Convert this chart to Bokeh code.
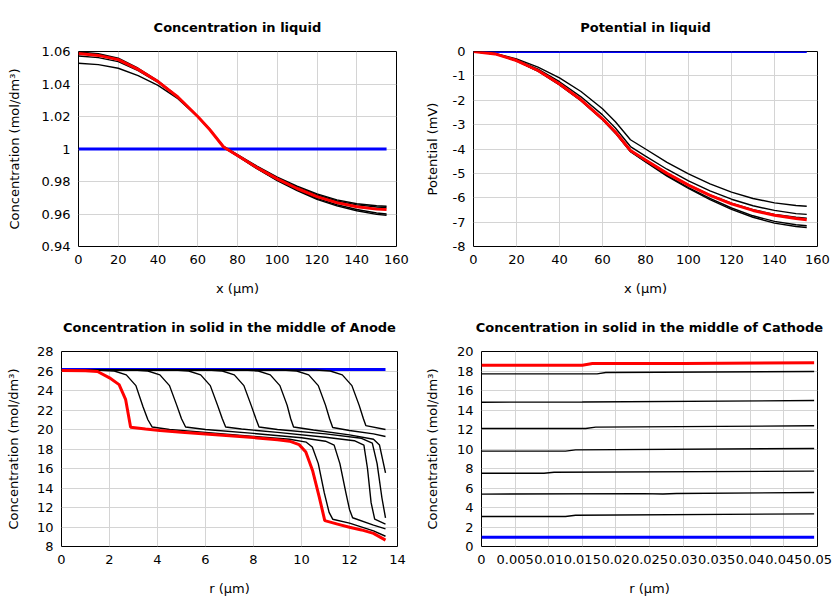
from bokeh.plotting import figure
from bokeh.layouts import column, row
from bokeh.models import Range1d, FixedTicker
from bokeh.embed import file_html
from bokeh.resources import INLINE

FONT = "DejaVu Sans"

# ---------------- Panel 1: Concentration in liquid ----------------
liq_x = [0, 10, 20, 30, 40, 50, 60, 66, 73, 80, 90, 100, 110, 120, 130, 140, 150, 155]
liq_conc_red = [1.0587, 1.0576, 1.0550, 1.0490, 1.0415, 1.0320, 1.0200, 1.0120, 1.0012, 0.9960,
                0.9884, 0.9816, 0.9757, 0.9707, 0.9670, 0.9645, 0.9630, 0.9627]
liq_conc_black = [
    [1.0597, 1.0586, 1.0559, 1.0497, 1.0420, 1.0322, 1.0200, 1.0120, 1.0010, 0.9956,
     0.9877, 0.9806, 0.9744, 0.9690, 0.9650, 0.9620, 0.9598, 0.9592],
    [1.0591, 1.0580, 1.0553, 1.0492, 1.0416, 1.0320, 1.0199, 1.0119, 1.0010, 0.9957,
     0.9879, 0.9809, 0.9748, 0.9696, 0.9657, 0.9628, 0.9606, 0.9600],
    [1.0572, 1.0562, 1.0538, 1.0482, 1.0410, 1.0318, 1.0200, 1.0121, 1.0014, 0.9963,
     0.9889, 0.9822, 0.9765, 0.9717, 0.9680, 0.9656, 0.9643, 0.9640],
    [1.0528, 1.0519, 1.0497, 1.0452, 1.0392, 1.0310, 1.0197, 1.0121, 1.0016, 0.9966,
     0.9893, 0.9827, 0.9771, 0.9724, 0.9687, 0.9663, 0.9651, 0.9648],
]
liq_conc_blue_x = [0, 155]
liq_conc_blue = [1.0, 1.0]
liq_conc_xticks = [0, 20, 40, 60, 80, 100, 120, 140, 160]
liq_conc_xlabels = ["0", "20", "40", "60", "80", "100", "120", "140", "160"]
liq_conc_yticks = [0.94, 0.96, 0.98, 1.0, 1.02, 1.04, 1.06]
liq_conc_ylabels = ["0.94", "0.96", "0.98", "1", "1.02", "1.04", "1.06"]

# ---------------- Panel 2: Potential in liquid ----------------
pot_red = [0, -0.10, -0.37, -0.78, -1.33, -1.98, -2.76, -3.30, -4.06, -4.45,
           -5.00, -5.48, -5.90, -6.25, -6.52, -6.72, -6.85, -6.90]
pot_black = [
    [0, -0.08, -0.30, -0.64, -1.08, -1.64, -2.35, -2.88, -3.62, -4.00,
     -4.55, -5.02, -5.43, -5.77, -6.03, -6.21, -6.32, -6.35],
    [0, -0.09, -0.34, -0.72, -1.24, -1.86, -2.60, -3.14, -3.90, -4.29,
     -4.83, -5.31, -5.72, -6.06, -6.33, -6.52, -6.65, -6.68],
    [0, -0.10, -0.37, -0.79, -1.34, -1.99, -2.77, -3.31, -4.06, -4.45,
     -4.99, -5.47, -5.88, -6.22, -6.49, -6.68, -6.80, -6.84],
    [0, -0.10, -0.38, -0.80, -1.36, -2.01, -2.79, -3.34, -4.10, -4.51,
     -5.08, -5.58, -6.03, -6.42, -6.74, -6.97, -7.11, -7.15],
    [0, -0.10, -0.38, -0.81, -1.37, -2.02, -2.80, -3.35, -4.11, -4.53,
     -5.11, -5.62, -6.08, -6.48, -6.80, -7.04, -7.18, -7.22],
]
pot_blue_x = [0, 155]
pot_blue = [0, 0]
pot_yticks = [0, -1, -2, -3, -4, -5, -6, -7, -8]
pot_ylabels = ["0", "-1", "-2", "-3", "-4", "-5", "-6", "-7", "-8"]

# ---------------- Panel 3: Anode solid concentration ----------------
anode_r_red = [0, 1.0, 1.5, 2.0, 2.4, 2.67, 2.88, 3.5, 4.1, 5, 6, 7, 8, 9, 9.5, 9.9,
               10.18, 10.46, 10.74, 10.97, 11.5, 12, 12.5, 13, 13.5]
anode_c_red = [26.05, 26.02, 25.95, 25.3, 24.6, 23.1, 20.24, 20.05, 19.9, 19.72, 19.55,
               19.37, 19.17, 18.95, 18.8, 18.45, 17.7, 15.8, 13.07, 10.65, 10.3, 9.97,
               9.7, 9.34, 8.66]
anode_r_black = [
    [0, 1.5, 2.2, 2.7, 3.1, 3.4, 3.6, 3.78, 4.5, 6, 8, 9.5, 10.2, 10.45, 10.7, 10.95,
     11.15, 11.3, 12, 13, 13.5],
    [0, 3.0, 3.6, 4.1, 4.5, 4.8, 5.0, 5.17, 6, 8, 10, 11.0, 11.36, 11.6, 11.85, 12.0,
     12.13, 13, 13.5],
    [0, 4.7, 5.3, 5.8, 6.2, 6.5, 6.7, 6.84, 7.5, 9, 11, 12.2, 12.6, 12.75, 12.9, 13.05,
     13.5],
    [0, 6.1, 6.7, 7.2, 7.6, 7.9, 8.1, 8.23, 9, 11, 12.5, 12.95, 13.15, 13.35, 13.5],
    [0, 7.6, 8.2, 8.7, 9.1, 9.4, 9.55, 9.67, 10.5, 12, 13.0, 13.25, 13.5],
    [0, 9.2, 9.8, 10.3, 10.7, 11.0, 11.17, 11.3, 12, 13, 13.5],
    [0, 10.6, 11.2, 11.7, 12.1, 12.4, 12.58, 12.68, 13.5],
]
anode_c_black = [
    [26.1, 26.1, 26.0, 25.6, 24.5, 22.3, 21.0, 20.25, 20.0, 19.7, 19.3, 19.0, 18.7,
     18.2, 16.5, 13.5, 11.5, 10.8, 10.4, 9.6, 9.05],
    [26.1, 26.1, 26.0, 25.6, 24.5, 22.5, 21.1, 20.25, 20.0, 19.6, 19.15, 18.8, 18.4,
     16.5, 13.5, 11.8, 10.95, 10.2, 9.8],
    [26.1, 26.1, 26.0, 25.6, 24.5, 22.5, 21.1, 20.25, 20.05, 19.7, 19.2, 18.85, 18.4,
     16.0, 12.5, 10.8, 10.3],
    [26.1, 26.1, 26.0, 25.6, 24.5, 22.5, 21.1, 20.25, 20.0, 19.55, 19.1, 18.6, 16.5,
     13.0, 10.93],
    [26.1, 26.1, 26.0, 25.6, 24.5, 22.5, 21.1, 20.25, 19.95, 19.45, 19.0, 18.4, 15.55],
    [26.1, 26.1, 26.0, 25.6, 24.5, 22.5, 21.1, 20.2, 19.9, 19.55, 19.28],
    [26.1, 26.1, 26.0, 25.6, 24.5, 22.5, 21.1, 20.4, 20.0],
]
anode_r_blue = [0, 13.5]
anode_c_blue = [26.15, 26.15]
anode_xticks = [0, 2, 4, 6, 8, 10, 12, 14]
anode_xlabels = ["0", "2", "4", "6", "8", "10", "12", "14"]
anode_yticks = [8, 10, 12, 14, 16, 18, 20, 22, 24, 26, 28]
anode_ylabels = ["8", "10", "12", "14", "16", "18", "20", "22", "24", "26", "28"]

# ---------------- Panel 4: Cathode solid concentration ----------------
cath_r_red = [0, 0.015, 0.0165, 0.03, 0.0495]
cath_c_red = [18.6, 18.6, 18.76, 18.78, 18.84]
cath_r_black = [
    [0, 0.0172, 0.0185, 0.0495],
    [0, 0.015, 0.0495],
    [0, 0.0155, 0.017, 0.0495],
    [0, 0.0125, 0.014, 0.0495],
    [0, 0.0093, 0.0108, 0.0495],
    [0, 0.024, 0.027, 0.029, 0.0495],
    [0, 0.0125, 0.014, 0.0495],
]
cath_c_black = [
    [17.71, 17.71, 17.85, 17.95],
    [14.8, 14.82, 14.97],
    [12.1, 12.1, 12.24, 12.38],
    [9.78, 9.78, 9.91, 10.05],
    [7.52, 7.52, 7.62, 7.73],
    [5.37, 5.42, 5.38, 5.44, 5.54],
    [3.08, 3.08, 3.21, 3.35],
]
cath_r_blue = [0, 0.0495]
cath_c_blue = [0.95, 0.95]
cath_xticks = [0, 0.005, 0.01, 0.015, 0.02, 0.025, 0.03, 0.035, 0.04, 0.045, 0.05]
cath_xlabels = ["0", "0.005", "0.01", "0.015", "0.02", "0.025", "0.03", "0.035", "0.04",
                "0.045", "0.05"]
cath_yticks = [0, 2, 4, 6, 8, 10, 12, 14, 16, 18, 20]
cath_ylabels = ["0", "2", "4", "6", "8", "10", "12", "14", "16", "18", "20"]


def make_fig(title, width, height, borders, xr, yr, xticks, xlabels, yticks, ylabels,
             xlabel, ylabel, yals, xals):
    left, right, top, bottom = borders
    p = figure(width=width, height=height, output_backend="svg", toolbar_location=None,
               x_range=Range1d(*xr), y_range=Range1d(*yr),
               min_border_left=left, min_border_right=right,
               min_border_top=top, min_border_bottom=bottom)
    p.title.text = title
    p.title.align = "center"
    p.title.text_font = FONT
    p.title.text_font_size = "13px"
    p.title.text_font_style = "bold"
    p.title.text_color = "black"
    p.title.standoff = 33
    p.background_fill_color = "white"
    p.border_fill_color = "white"
    p.outline_line_color = "black"
    p.outline_line_width = 1
    p.outline_line_alpha = 1

    p.xaxis.ticker = FixedTicker(ticks=xticks, minor_ticks=[])
    p.yaxis.ticker = FixedTicker(ticks=yticks, minor_ticks=[])
    p.xaxis.major_label_overrides = {t: l for t, l in zip(xticks, xlabels)}
    p.yaxis.major_label_overrides = {t: l for t, l in zip(yticks, ylabels)}
    for ax in (p.xaxis, p.yaxis):
        ax.axis_line_color = None
        ax.major_tick_line_color = None
        ax.minor_tick_line_color = None
        ax.major_tick_out = 0
        ax.major_tick_in = 0
        ax.major_label_standoff = 8
        ax.major_label_text_font = FONT
        ax.major_label_text_font_size = "13px"
        ax.major_label_text_color = "black"
        ax.axis_label_text_font = FONT
        ax.axis_label_text_font_size = "13px"
        ax.axis_label_text_font_style = "normal"
        ax.axis_label_text_color = "black"
    p.xaxis.axis_label = xlabel
    p.yaxis.axis_label = ylabel
    p.yaxis.axis_label_standoff = yals
    p.xaxis.axis_label_standoff = xals
    p.grid.grid_line_color = "#d4d4d4"
    p.grid.grid_line_width = 1
    return p


# Panel 1
p1 = make_fig("Concentration in liquid", 418, 301, (78, 22, 51, 55), (0, 160), (0.94, 1.06),
              liq_conc_xticks, liq_conc_xlabels, liq_conc_yticks, liq_conc_ylabels,
              "x (µm)", "Concentration (mol/dm³)", 17, 14)
p1.line(liq_conc_blue_x, liq_conc_blue, line_color="#0000ff", line_width=3)
for ys in liq_conc_black:
    p1.line(liq_x, ys, line_color="black", line_width=1.4)
p1.line(liq_x, liq_conc_red, line_color="#ff0000", line_width=3)

# Panel 2
p2 = make_fig("Potential in liquid", 422, 301, (55, 23, 51, 55), (0, 160), (-8, 0),
              liq_conc_xticks, liq_conc_xlabels, pot_yticks, pot_ylabels,
              "x (µm)", "Potential (mV)", 10, 14)
p2.line(pot_blue_x, pot_blue, line_color="#0000ff", line_width=3)
for ys in pot_black:
    p2.line(liq_x, ys, line_color="black", line_width=1.4)
p2.line(liq_x, pot_red, line_color="#ff0000", line_width=3)

# Panel 3
p3 = make_fig("Concentration in solid in the middle of Anode", 418, 299, (61, 21, 50, 54),
              (0, 14), (8, 28), anode_xticks, anode_xlabels, anode_yticks, anode_ylabels,
              "r (µm)", "Concentration (mol/dm³)", 13, 14)
p3.line(anode_r_blue, anode_c_blue, line_color="#0000ff", line_width=3)
for xs, ys in zip(anode_r_black, anode_c_black):
    p3.line(xs, ys, line_color="black", line_width=1.4)
p3.line(anode_r_red, anode_c_red, line_color="#ff0000", line_width=3)

# Panel 4
p4 = make_fig("Concentration in solid in the middle of Cathode", 422, 299, (63, 23, 50, 54),
              (0, 0.05), (0, 20), cath_xticks, cath_xlabels, cath_yticks, cath_ylabels,
              "r (µm)", "Concentration (mol/dm³)", 14, 14)
p4.line(cath_r_blue, cath_c_blue, line_color="#0000ff", line_width=3)
for xs, ys in zip(cath_r_black, cath_c_black):
    p4.line(xs, ys, line_color="black", line_width=1.4)
p4.line(cath_r_red, cath_c_red, line_color="#ff0000", line_width=3)

layout = column(row(p1, p2), row(p3, p4))
open("out.html", "w").write(file_html(layout, INLINE))
